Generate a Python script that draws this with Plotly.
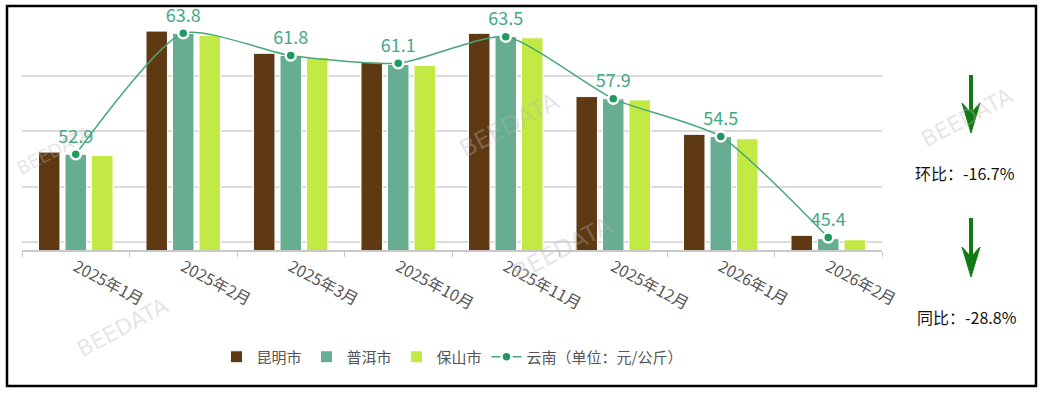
import plotly.graph_objects as go

months = ["2025年1月", "2025年2月", "2025年3月", "2025年10月", "2025年11月",
          "2025年12月", "2026年1月", "2026年2月"]
kunming = [53.1, 64.0, 62.0, 61.2, 63.8, 58.1, 54.7, 45.6]
puer = [52.9, 63.8, 61.8, 61.0, 63.5, 57.9, 54.5, 45.3]
baoshan = [52.8, 63.6, 61.6, 60.9, 63.4, 57.8, 54.3, 45.2]
yunnan = [52.9, 63.8, 61.8, 61.1, 63.5, 57.9, 54.5, 45.4]
yunnan_labels = ["52.9", "63.8", "61.8", "61.1", "63.5", "57.9", "54.5", "45.4"]
mom_text = "环比：-16.7%"
yoy_text = "同比：-28.8%"

W, H = 1045, 395
L, R, T, B = 22, 882, 20, 250  # plot area in pixels
PW, PH = R - L, B - T


def px(x):
    return (x - L) / PW


def py(y):
    return (B - y) / PH


FONT = "Noto Sans CJK SC, Noto Sans, sans-serif"

fig = go.Figure()
fig.add_bar(x=months, y=kunming, name="昆明市", marker_color="#5f3912",
            marker_line=dict(color="white", width=1))
fig.add_bar(x=months, y=puer, name="普洱市", marker_color="#67ad91",
            marker_line=dict(color="white", width=1))
fig.add_bar(x=months, y=baoshan, name="保山市", marker_color="#c3e945",
            marker_line=dict(color="white", width=1))
fig.add_scatter(x=months, y=yunnan, name="云南（单位：元/公斤）", mode="lines+markers+text",
                line=dict(color="#45a878", width=1.5, shape="spline", smoothing=0.6),
                marker=dict(color="#1f9a5c", size=10, line=dict(color="white", width=2.5)),
                text=yunnan_labels, textposition="top center",
                textfont=dict(color="#45a882", size=18, family=FONT),
                cliponaxis=False)

fig.update_layout(
    width=W, height=H,
    margin=dict(l=L, r=W - R, t=T, b=H - B),
    paper_bgcolor="white", plot_bgcolor="white",
    barmode="group", bargap=0.26, bargroupgap=0.19,
    font=dict(family=FONT, color="#555"),
    legend=dict(orientation="h", x=0.5, xanchor="center", y=py(357), yanchor="middle",
                font=dict(size=15, color="#555"), itemwidth=30, traceorder="normal"),
    showlegend=True,
)
fig.update_xaxes(showgrid=False, showline=True, linecolor="#c8c8c8", linewidth=1.5,
                 ticks="outside", tickson="boundaries", ticklen=5, tickcolor="#c8c8c8",
                 tickangle=28, tickfont=dict(size=16, color="#555", family=FONT))
fig.update_yaxes(range=[44.28, 65], showticklabels=False, tick0=45, dtick=5,
                 showgrid=True, gridcolor="#dcdcdc", gridwidth=2, zeroline=False,
                 showline=False)

shapes = [dict(type="rect", xref="paper", yref="paper",
               x0=px(7), x1=px(1036), y0=py(386), y1=py(6),
               line=dict(color="black", width=2.5), fillcolor="rgba(0,0,0,0)", layer="above")]
for (top, tip) in [(75, 133), (218, 277)]:
    cx = 971
    shapes.append(dict(type="line", xref="paper", yref="paper",
                       x0=px(cx), x1=px(cx), y0=py(top), y1=py(tip - 20),
                       line=dict(color="#137a13", width=4)))
    shapes.append(dict(type="path", xref="paper", yref="paper",
                       path=f"M {px(cx-9)},{py(tip-30)} L {px(cx)},{py(tip-20)} L {px(cx+9)},{py(tip-30)} L {px(cx)},{py(tip)} Z",
                       fillcolor="#137a13", line=dict(color="#137a13", width=1)))
fig.update_layout(shapes=shapes)

annotations = [
    dict(x=px(965), y=py(173), xref="paper", yref="paper", text=mom_text, showarrow=False,
         font=dict(size=16, color="#111", family=FONT), xanchor="center", yanchor="middle"),
    dict(x=px(967), y=py(317), xref="paper", yref="paper", text=yoy_text, showarrow=False,
         font=dict(size=16, color="#111", family=FONT), xanchor="center", yanchor="middle"),
]
# faint watermarks
for (wx, wy, ang, sz) in [(510, 125, -28, 24), (620, 290, -28, 24), (70, 365, -28, 22),
                          (1020, 80, -28, 22), (10, 150, -28, 18)]:
    annotations.append(dict(x=px(wx), y=py(wy), xref="paper", yref="paper", text="BEEDATA",
                            showarrow=False, textangle=ang,
                            font=dict(size=sz, color="rgba(180,180,180,0.35)", family="DejaVu Sans")))
fig.update_layout(annotations=annotations)

fig.write_html("out.html", config={"displayModeBar": False},
               post_script="document.body.style.margin='0';document.body.style.overflow='hidden';")
